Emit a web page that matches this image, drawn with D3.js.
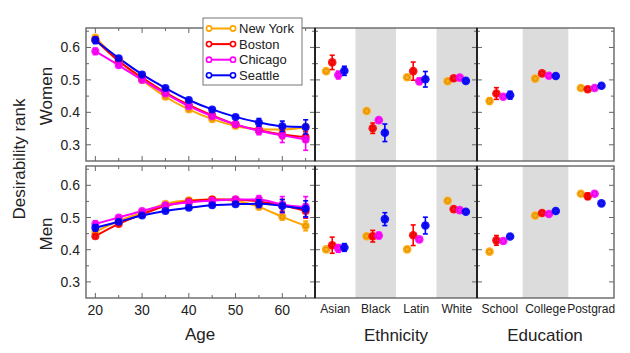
<!DOCTYPE html>
<html>
<head>
<meta charset="utf-8">
<script src="https://cdn.jsdelivr.net/npm/d3@7"></script>
<style>
  body { margin: 0; background: #fff; }
  text { font-family: "Liberation Sans", Arial, sans-serif; fill: #222; }
</style>
</head>
<body>
<div class="vis"></div>
<script>
// series
const cities = ["New York", "Boston", "Chicago", "Seattle"];
const cityColors = ["#ffa500", "#ff0000", "#ff00ff", "#0000ff"];

// age panel
const ages = [20, 25, 30, 35, 40, 45, 50, 55, 60, 65];
const womenAge = [
    [0.631, 0.560, 0.500, 0.448, 0.409, 0.379, 0.358, 0.348, 0.347, 0.353],
    [0.624, 0.558, 0.507, 0.461, 0.423, 0.391, 0.363, 0.345, 0.332, 0.324],
    [0.588, 0.545, 0.500, 0.458, 0.419, 0.388, 0.363, 0.343, 0.329, 0.316],
    [0.622, 0.567, 0.517, 0.475, 0.438, 0.409, 0.386, 0.369, 0.357, 0.355]
];
const womenAgeErr = [
    [0.008, 0.005, 0.005, 0.005, 0.005, 0.005, 0.006, 0.008, 0.010, 0.012],
    [0.008, 0.006, 0.005, 0.005, 0.005, 0.006, 0.007, 0.010, 0.013, 0.016],
    [0.010, 0.007, 0.006, 0.006, 0.006, 0.007, 0.009, 0.012, 0.022, 0.033],
    [0.010, 0.006, 0.005, 0.005, 0.005, 0.006, 0.008, 0.012, 0.016, 0.022]
];
const menAge = [
    [0.455, 0.490, 0.515, 0.543, 0.554, 0.556, 0.552, 0.533, 0.502, 0.474],
    [0.442, 0.480, 0.510, 0.536, 0.550, 0.556, 0.556, 0.550, 0.538, 0.520],
    [0.480, 0.500, 0.520, 0.538, 0.547, 0.552, 0.556, 0.556, 0.540, 0.533],
    [0.468, 0.487, 0.506, 0.520, 0.530, 0.538, 0.541, 0.543, 0.536, 0.527]
];
const menAgeErr = [
    [0.008, 0.006, 0.005, 0.005, 0.005, 0.005, 0.006, 0.008, 0.010, 0.015],
    [0.008, 0.006, 0.005, 0.005, 0.005, 0.006, 0.008, 0.012, 0.018, 0.022],
    [0.010, 0.008, 0.006, 0.006, 0.006, 0.007, 0.009, 0.012, 0.025, 0.032],
    [0.010, 0.007, 0.006, 0.005, 0.005, 0.006, 0.008, 0.012, 0.020, 0.025]
];

// ethnicity panel
const ethnicities = ["Asian", "Black", "Latin", "White"];
const womenEth = [
    [0.527, 0.404, 0.508, 0.496],
    [0.554, 0.351, 0.527, 0.505],
    [0.515, 0.376, 0.496, 0.507],
    [0.528, 0.337, 0.502, 0.497]
];
const womenEthErr = [
    [0.004, 0.004, 0.004, 0.003],
    [0.022, 0.016, 0.028, 0.005],
    [0.012, 0.006, 0.010, 0.004],
    [0.014, 0.027, 0.024, 0.005]
];
const menEth = [
    [0.401, 0.442, 0.401, 0.552],
    [0.414, 0.442, 0.445, 0.526],
    [0.404, 0.444, 0.432, 0.523],
    [0.407, 0.495, 0.475, 0.518]
];
const menEthErr = [
    [0.004, 0.004, 0.004, 0.004],
    [0.025, 0.018, 0.032, 0.005],
    [0.012, 0.010, 0.008, 0.004],
    [0.012, 0.020, 0.026, 0.005]
];

// education panel
const educations = ["School", "College", "Postgrad"];
const womenEdu = [
    [0.435, 0.504, 0.475],
    [0.458, 0.520, 0.471],
    [0.448, 0.513, 0.475],
    [0.453, 0.512, 0.482]
];
const womenEduErr = [
    [0.010, 0.004, 0.004],
    [0.018, 0.006, 0.005],
    [0.006, 0.005, 0.004],
    [0.012, 0.006, 0.006]
];
const menEdu = [
    [0.394, 0.506, 0.574],
    [0.429, 0.514, 0.566],
    [0.427, 0.511, 0.574],
    [0.441, 0.520, 0.544]
];
const menEduErr = [
    [0.005, 0.004, 0.004],
    [0.015, 0.006, 0.010],
    [0.006, 0.005, 0.004],
    [0.008, 0.005, 0.005]
];

const yTicks = [0.3, 0.4, 0.5, 0.6];

const config = {
    "frame-color": "#666",
    "shade-color": "#dcdcdc"
};

const width = 630, height = 353;
const svg = d3.select(".vis").append("svg")
    .attr("width", width)
    .attr("height", height);

// layout
const colAge = [86, 315], colEth = [315, 477], colEdu = [477, 614];
const rowTop = [161, 28], rowBot = [298, 166];

const xAge = d3.scaleLinear().domain([18, 67]).range(colAge);
const xEth = d3.scaleBand().domain(ethnicities).range(colEth);
const xEdu = d3.scaleBand().domain(educations).range(colEdu);
const yTop = d3.scaleLinear().domain([0.25, 0.66]).range(rowTop);
const yBot = d3.scaleLinear().domain([0.25, 0.66]).range(rowBot);

const minorY = d3.range(0.3, 0.66, 0.05).filter(v => Math.abs(v * 10 - Math.round(v * 10)) > 0.01);

function frameTicks(g, x0, x1, y, withLabels) {
    // y ticks on both sides, inside
    yTicks.forEach(v => {
        g.append("line").attr("x1", x0).attr("x2", x0 + 5).attr("y1", y(v)).attr("y2", y(v))
            .attr("stroke", config["frame-color"]);
        g.append("line").attr("x1", x1).attr("x2", x1 - 5).attr("y1", y(v)).attr("y2", y(v))
            .attr("stroke", config["frame-color"]);
        if (withLabels) {
            g.append("text").attr("x", 80).attr("y", y(v) + 5)
                .attr("text-anchor", "end").style("font-size", "14px").text(v.toFixed(1));
        }
    });
    minorY.forEach(v => {
        g.append("line").attr("x1", x0).attr("x2", x0 + 3).attr("y1", y(v)).attr("y2", y(v))
            .attr("stroke", config["frame-color"]);
        g.append("line").attr("x1", x1).attr("x2", x1 - 3).attr("y1", y(v)).attr("y2", y(v))
            .attr("stroke", config["frame-color"]);
    });
}

function ageTicks(g, y0, y1) {
    d3.range(20, 66, 5).forEach(a => {
        const len = a % 10 === 0 ? 5 : 3;
        g.append("line").attr("x1", xAge(a)).attr("x2", xAge(a)).attr("y1", y0).attr("y2", y0 - len)
            .attr("stroke", config["frame-color"]);
        g.append("line").attr("x1", xAge(a)).attr("x2", xAge(a)).attr("y1", y1).attr("y2", y1 + len)
            .attr("stroke", config["frame-color"]);
    });
}

function drawFrame(g, x0, x1, y) {
    const r = y.range();
    g.append("rect")
        .attr("x", x0).attr("y", r[1])
        .attr("width", x1 - x0).attr("height", r[0] - r[1])
        .attr("fill", "none")
        .attr("stroke", config["frame-color"])
        .attr("stroke-width", 1.4);
}

function errorBar(g, x, y, v, e, color) {
    if (e * (y.range()[0] - y.range()[1]) / 0.41 < 3) return;
    g.append("line").attr("x1", x).attr("x2", x).attr("y1", y(v - e)).attr("y2", y(v + e))
        .attr("stroke", color).attr("stroke-width", 1.6);
    [v - e, v + e].forEach(t => {
        g.append("line").attr("x1", x - 2.5).attr("x2", x + 2.5).attr("y1", y(t)).attr("y2", y(t))
            .attr("stroke", color).attr("stroke-width", 1.6);
    });
}

function marker(g, x, y, color, r) {
    g.append("circle").attr("cx", x).attr("cy", y).attr("r", r).attr("fill", color).attr("opacity", 0.9);
    g.append("circle").attr("cx", x).attr("cy", y).attr("r", r * 0.55)
        .attr("fill", "none").attr("stroke", d3.color(color).darker(0.6)).attr("stroke-width", 0.8);
}

// shaded bands
[[xEth, ["Black", "White"]], [xEdu, ["College"]]].forEach(([sc, shaded]) => {
    shaded.forEach(c => {
        [yTop, yBot].forEach(y => {
            svg.append("rect")
                .attr("x", sc(c)).attr("y", y.range()[1])
                .attr("width", sc.bandwidth()).attr("height", y.range()[0] - y.range()[1])
                .attr("fill", config["shade-color"]);
        });
    });
});

// age panels
[[yTop, womenAge, womenAgeErr], [yBot, menAge, menAgeErr]].forEach(([y, vals, errs]) => {
    const g = svg.append("g");
    const line = d3.line().x((d, i) => xAge(ages[i])).y(d => y(d)).curve(d3.curveMonotoneX);
    vals.forEach((s, k) => {
        g.append("path").datum(s).attr("d", line)
            .attr("fill", "none").attr("stroke", cityColors[k]).attr("stroke-width", 2);
    });
    vals.forEach((s, k) => {
        s.forEach((v, i) => {
            errorBar(g, xAge(ages[i]), y, v, errs[k][i], cityColors[k]);
            marker(g, xAge(ages[i]), y(v), cityColors[k], 4);
        });
    });
});

// categorical panels
function catPanel(sc, y, vals, errs) {
    const g = svg.append("g");
    const step = sc.bandwidth() * 0.15;
    vals.forEach((s, k) => {
        s.forEach((v, i) => {
            const cx = sc(sc.domain()[i]) + sc.bandwidth() / 2 + (k - 1.5) * step;
            errorBar(g, cx, y, v, errs[k][i], cityColors[k]);
            marker(g, cx, y(v), cityColors[k], 4.3);
        });
    });
}
catPanel(xEth, yTop, womenEth, womenEthErr);
catPanel(xEth, yBot, menEth, menEthErr);
catPanel(xEdu, yTop, womenEdu, womenEduErr);
catPanel(xEdu, yBot, menEdu, menEduErr);

// frames + ticks
const axes = svg.append("g");
[yTop, yBot].forEach(y => {
    drawFrame(axes, colAge[0], colAge[1], y);
    drawFrame(axes, colEth[0], colEth[1], y);
    drawFrame(axes, colEdu[0], colEdu[1], y);
    frameTicks(axes, colAge[0], colAge[1], y, true);
    frameTicks(axes, colEth[0], colEth[1], y, false);
    frameTicks(axes, colEdu[0], colEdu[1], y, false);
    ageTicks(axes, y.range()[0], y.range()[1]);
});
// separators between panels drawn darker
[colEth[0], colEdu[0]].forEach(x => {
    axes.append("line").attr("x1", x).attr("x2", x).attr("y1", rowTop[1]).attr("y2", rowTop[0])
        .attr("stroke", "#111").attr("stroke-width", 1.6);
    axes.append("line").attr("x1", x).attr("x2", x).attr("y1", rowBot[1]).attr("y2", rowBot[0])
        .attr("stroke", "#111").attr("stroke-width", 1.6);
});

// x tick labels
d3.range(20, 61, 10).forEach(a => {
    svg.append("text").attr("x", xAge(a)).attr("y", 315)
        .attr("text-anchor", "middle").style("font-size", "14px").text(a);
});
[[xEth, ethnicities], [xEdu, educations]].forEach(([sc, cats]) => {
    cats.forEach(c => {
        svg.append("text").attr("x", sc(c) + sc.bandwidth() / 2).attr("y", 313)
            .attr("text-anchor", "middle").style("font-size", "12px").text(c);
    });
});

// axis titles
svg.append("text").attr("x", 200).attr("y", 340).attr("text-anchor", "middle")
    .style("font-size", "17px").text("Age");
svg.append("text").attr("x", 396).attr("y", 341).attr("text-anchor", "middle")
    .style("font-size", "17px").text("Ethnicity");
svg.append("text").attr("x", 545).attr("y", 341).attr("text-anchor", "middle")
    .style("font-size", "17px").text("Education");
svg.append("text").attr("transform", "translate(25,159)rotate(-90)").attr("text-anchor", "middle")
    .style("font-size", "17px").text("Desirability rank");
svg.append("text").attr("transform", "translate(52,96)rotate(-90)").attr("text-anchor", "middle")
    .style("font-size", "17px").text("Women");
svg.append("text").attr("transform", "translate(52,234)rotate(-90)").attr("text-anchor", "middle")
    .style("font-size", "17px").text("Men");

// legend
const legend = svg.append("g").attr("transform", "translate(203,18)");
legend.append("rect").attr("width", 99).attr("height", 67)
    .attr("fill", "#fff").attr("stroke", "#777").attr("stroke-width", 1);
const items = legend.selectAll(".legend_item")
    .data(cities)
    .enter()
    .append("g")
    .attr("class", "legend_item")
    .attr("transform", (d, i) => `translate(0, ${10.5 + i * 15.6})`);
items.append("line").attr("x1", 6).attr("x2", 30)
    .attr("stroke", (d, i) => cityColors[i]).attr("stroke-width", 2);
[6, 30].forEach(cx => {
    items.append("circle").attr("cx", cx).attr("r", 2.6)
        .attr("fill", "#fff").attr("stroke", (d, i) => cityColors[i]).attr("stroke-width", 1.6);
});
items.append("text").attr("x", 36).attr("y", 4.5)
    .style("font-size", "13px").text(d => d);
</script>
</body>
</html>
